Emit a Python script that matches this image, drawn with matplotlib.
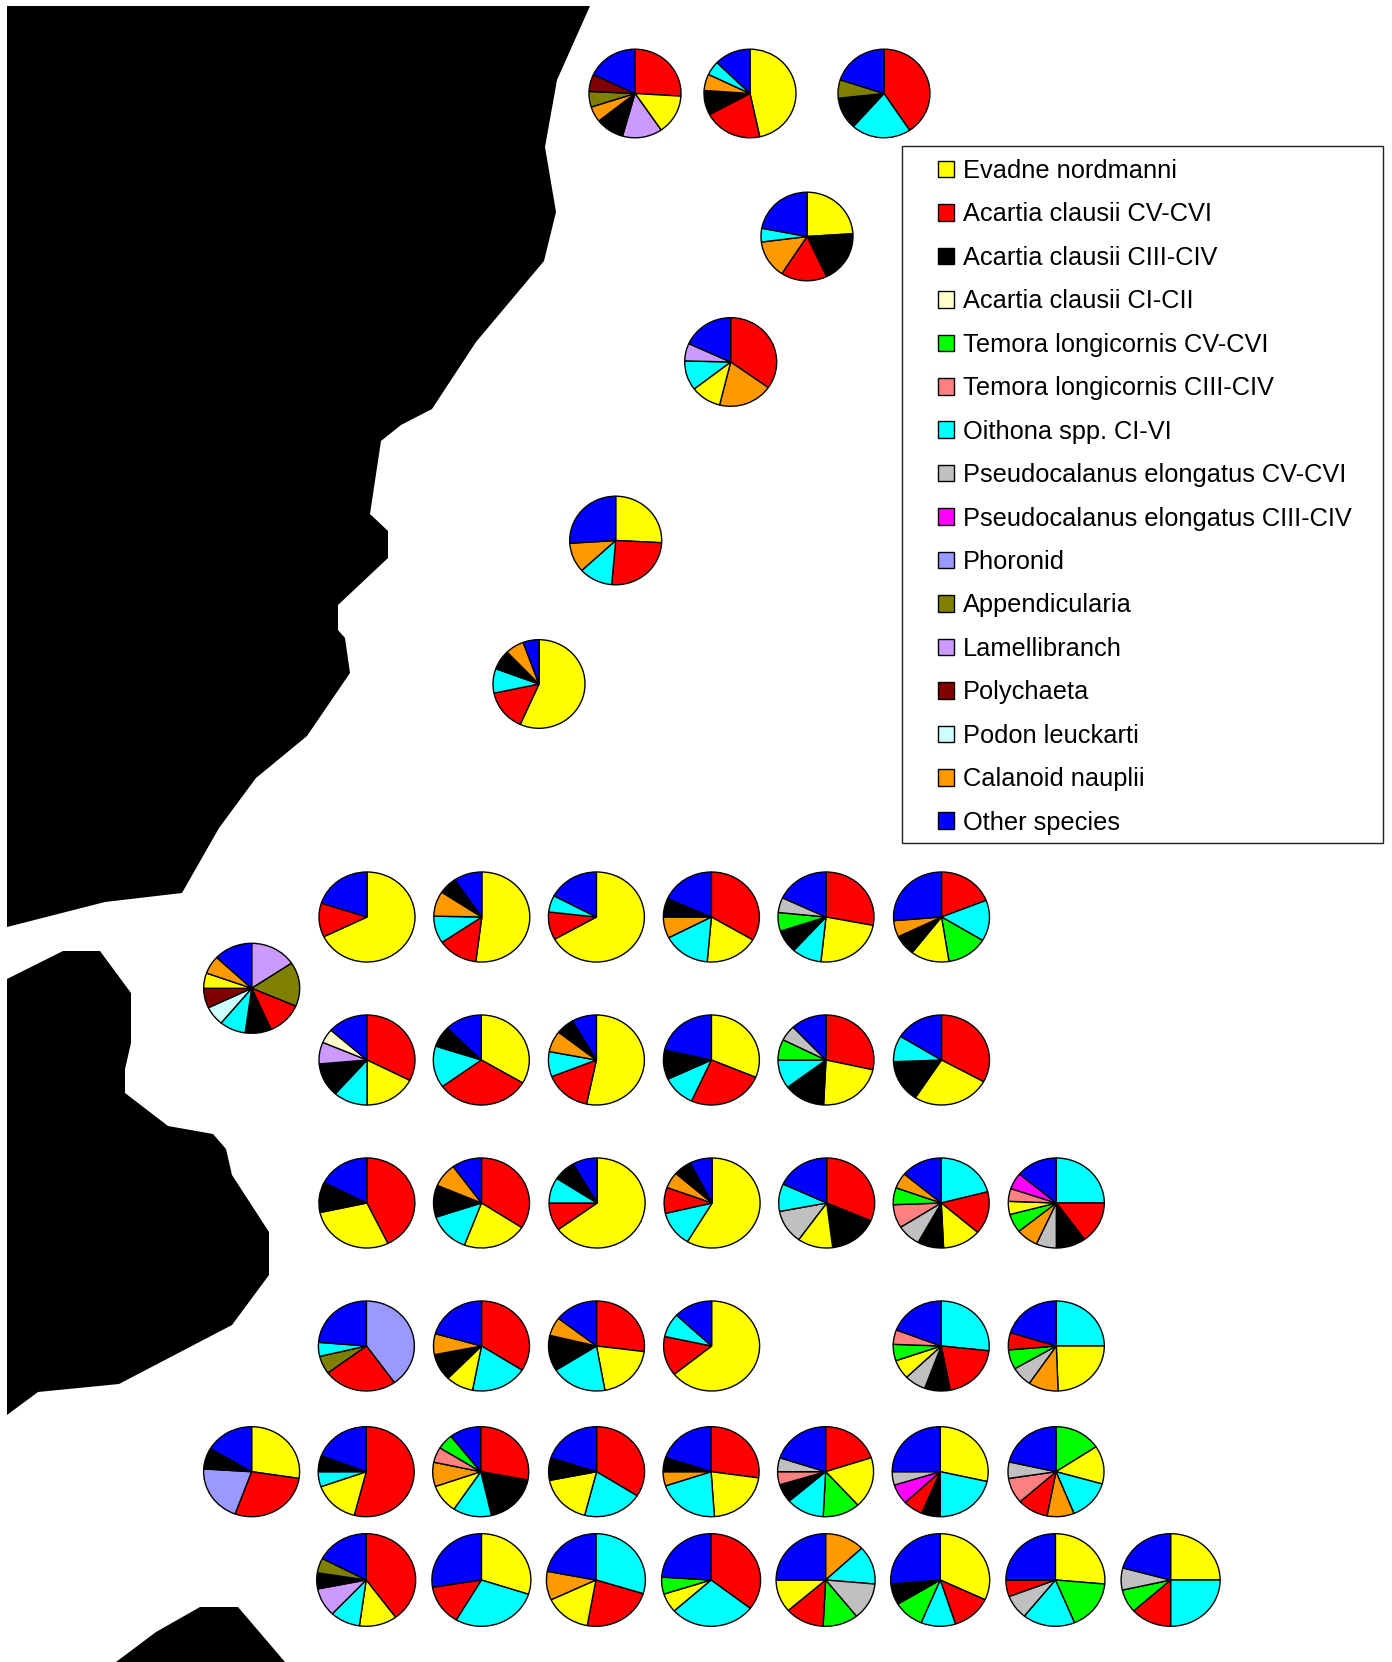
import matplotlib
matplotlib.use("Agg")
import matplotlib.pyplot as plt
from matplotlib.patches import Patch, Rectangle

W, H = 1392, 1662
plt.rcParams['font.family'] = ['Liberation Sans', 'DejaVu Sans']

# ---------- legend ----------
species_codes = ['Y','R','K','Cr','G','S','C','Gy','M','Ph','A','L','P','Po','O','B']
species_names = ['Evadne nordmanni','Acartia clausii CV-CVI','Acartia clausii CIII-CIV','Acartia clausii CI-CII',
                 'Temora longicornis CV-CVI','Temora longicornis CIII-CIV','Oithona spp. CI-VI',
                 'Pseudocalanus elongatus CV-CVI','Pseudocalanus elongatus CIII-CIV','Phoronid','Appendicularia',
                 'Lamellibranch','Polychaeta','Podon leuckarti','Calanoid nauplii','Other species']
species_colors = ['#FFFF00','#FF0000','#000000','#FFFFCC','#00FF00','#FF8080','#00FFFF','#C0C0C0','#FF00FF',
                  '#9999FF','#808000','#CC99FF','#800000','#CCFFFF','#FF9900','#0000FF']

# ---------- station data: clockwise from 12 o'clock, percent ----------
t1_s = ['R','Y','L','K','O','A','P','B'];  t1_v = [26,14.5,14,10,5.7,5.7,6.3,18]
t2_s = ['Y','R','K','O','C','B'];          t2_v = [46.6,20.5,9,6,5.2,12.7]
t3_s = ['R','C','K','A','B'];              t3_v = [40.6,21,11.7,6.7,20]
t4_s = ['Y','K','R','O','C','B'];          t4_v = [24,19,16.2,13.8,5,22]
t5_s = ['R','O','Y','C','L','B'];          t5_v = [34.8,19.1,10.7,10.8,6.4,18.2]
t6_s = ['Y','R','C','O','B'];              t6_v = [25.8,25.6,11.8,10.8,26]
t7_s = ['Y','R','C','K','O','B'];          t7_v = [56.7,15,8.9,7.2,6.6,5.6]

l0_s = ['L','A','R','K','C','Po','P','Y','O','B']; l0_v = [15.6,15.9,11.9,8.8,8.8,6.9,7.1,5.5,6.5,13]

a1_s = ['Y','R','B'];                      a1_v = [67.8,12.2,20]
a2_s = ['Y','R','C','O','K','B'];          a2_v = [52,13.5,9.8,9,6.2,9.5]
a3_s = ['Y','R','C','B'];                  a3_v = [66.8,10,6,17.2]
a4_s = ['R','Y','C','O','K','B'];          a4_v = [33.5,17.9,16,7.6,6.7,18.3]
a5_s = ['R','Y','C','K','G','Gy','B'];     a5_v = [28,23.7,10,8.2,6.7,5.4,18]
a6_s = ['R','C','G','Y','K','O','B'];      a6_v = [19,14.7,13.8,13,7.3,5.9,26.3]

b1_s = ['R','Y','C','K','L','Cr','B'];     b1_v = [32.5,17.5,11.5,12.1,7.8,5.1,13.5]
b2_s = ['Y','R','C','K','B'];              b2_v = [33.5,31.5,15,7.5,12.5]
b3_s = ['Y','R','C','O','K','B'];          b3_v = [53.3,15.7,9,7.6,6.1,8.3]
b4_s = ['Y','R','C','K','B'];              b4_v = [31.3,25.5,11.2,10.6,21.4]
b5_s = ['R','Y','K','C','G','Gy','B'];     b5_v = [28.5,22.3,13.9,10.3,7.4,5.6,12]
b6_s = ['R','Y','K','C','B'];              b6_v = [33,26.2,15.2,9.4,16.2]

c1_s = ['R','Y','K','B'];                  c1_v = [42.8,28.8,10.9,17.5]
c2_s = ['R','Y','C','K','O','B'];          c2_v = [34.2,21.6,14.1,11.5,8.6,10]
c3_s = ['Y','R','C','K','B'];              c3_v = [65,10,9.2,7.5,8.3]
c4_s = ['Y','C','R','O','K','B'];          c4_v = [58.6,12.7,9.3,5.8,6.1,7.5]
c5_s = ['R','K','Y','Gy','C','B'];         c5_v = [31.5,16.5,11.9,12.1,9.9,18.1]
c6_s = ['C','R','Y','K','Gy','S','G','O','B']; c6_v = [21,15.3,12.9,8.8,8,8.4,6.1,5.6,13.9]
c7_s = ['C','R','K','Gy','O','G','Y','S','M','B']; c7_v = [25,15,10,6.8,7.4,6.7,4.7,4.6,5.9,13.9]

d1_s = ['Ph','R','A','C','B'];             d1_v = [40.1,24.7,6.5,5,23.7]
d2_s = ['R','C','Y','K','O','B'];          d2_v = [34,19,9.3,9.6,7.5,20.6]
d3_s = ['R','Y','C','K','O','B'];          d3_v = [27,20.2,18.8,12.8,6.7,14.5]
d4_s = ['Y','R','C','B'];                  d4_v = [64.2,14.2,8.6,13]
d5_s = ['C','R','K','Gy','Y','G','S','B']; d5_v = [26.7,20.3,8.6,7.2,6.9,5.9,5.2,19.2]
d6_s = ['C','Y','O','Gy','G','R','B'];     d6_v = [25,24.4,10.1,7.1,7,6.2,20.2]

e0_s = ['Y','R','Ph','K','B'];             e0_v = [27.4,28.2,20.4,7.6,16.4]
e1_s = ['R','Y','C','K','B'];              e1_v = [54,15.6,5.4,5.8,19.2]
e2_s = ['R','K','C','Y','O','S','G','B'];  e2_v = [28,18.4,13,10.3,8.7,5.5,5.5,10.6]
e3_s = ['R','C','Y','K','B'];              e3_v = [34,20,17.9,8.1,20]
e4_s = ['R','Y','C','O','K','B'];          e4_v = [27.2,21.7,21,5.1,5.2,19.8]
e5_s = ['R','Y','G','C','K','S','Gy','B']; e5_v = [20,18.3,12.5,12.9,6.6,4.7,5,20]
e6_s = ['Y','C','K','R','M','Gy','B'];     e6_v = [28.5,21.5,6.3,6.7,7.2,4.8,25]
e7_s = ['G','Y','C','O','R','S','Gy','B']; e7_v = [15.7,13.7,14.5,9.1,10.4,9.2,5.9,21.5]

f1_s = ['R','Y','C','L','K','A','B'];      f1_v = [39.9,12.3,9.8,9.9,5.6,5.2,17.3]
f2_s = ['Y','C','R','B'];                  f2_v = [30,28.5,14,27.5]
f3_s = ['C','R','Y','O','B'];              f3_v = [29.8,23,15.2,10,22]
f4_s = ['R','C','Y','G','B'];              f4_v = [35.5,27.9,6.7,5.9,24]
f5_s = ['O','C','Gy','G','R','Y','B'];     f5_v = [13,13.4,12.9,11.5,12.8,11.4,25]
f6_s = ['Y','R','C','G','K','B'];          f6_v = [32,13,11.3,10,7.3,26.4]
f7_s = ['Y','G','C','Gy','R','B'];         f7_v = [26.4,17.3,17.1,8.4,5.8,25]
f8_s = ['Y','C','R','G','Gy','B'];         f8_v = [25,25,13.4,8.1,7.7,20.8]

# ---------- layout (pixels in the output image) ----------
coast_north = [(7,6),(590,6),(557,80),(545,147),(556,212),(544,261),(476,342),(432,409),(401,425),(381,441),
               (370,514),(388,531),(388,558),(338,605),(338,630),(345,638),(350,673),(307,736),(256,778),
               (219,828),(182,893),(105,902),(7,927)]
coast_middle = [(7,979),(63,951),(100,951),(131,993),(131,1043),(125,1069),(125,1093),(168,1126),(213,1134),
                (226,1149),(232,1175),(269,1232),(269,1275),(232,1325),(119,1384),(38,1392),(7,1415)]
coast_south = [(116,1662),(156,1632),(200,1607),(238,1607),(285,1662)]

top_r = (46, 44.3)
low_r = (48, 45)
end_r = (49.5, 46.3)
layout = [
    (t1_s,t1_v,635,93.5,top_r),(t2_s,t2_v,750,93.5,top_r),(t3_s,t3_v,884,93.5,top_r),(t4_s,t4_v,807,236.5,top_r),
    (t5_s,t5_v,730.7,362,top_r),(t6_s,t6_v,615.7,540.5,top_r),(t7_s,t7_v,539,684,top_r),
    (l0_s,l0_v,251.7,988.3,low_r),
    (a1_s,a1_v,367,917,low_r),(a2_s,a2_v,481.8,917,low_r),(a3_s,a3_v,596.4,917,low_r),
    (a4_s,a4_v,711.4,917,low_r),(a5_s,a5_v,826,917,low_r),(a6_s,a6_v,941.5,917,low_r),
    (b1_s,b1_v,367,1060,low_r),(b2_s,b2_v,481.3,1060,low_r),(b3_s,b3_v,596.4,1060,low_r),
    (b4_s,b4_v,711.4,1060,low_r),(b5_s,b5_v,826,1060,low_r),(b6_s,b6_v,941.5,1060,low_r),
    (c1_s,c1_v,366.9,1203,low_r),(c2_s,c2_v,481.5,1203,low_r),(c3_s,c3_v,597.1,1203,low_r),
    (c4_s,c4_v,712.1,1203,low_r),(c5_s,c5_v,826.7,1203,low_r),(c6_s,c6_v,941.2,1203,low_r),
    (c7_s,c7_v,1056.3,1203,low_r),
    (d1_s,d1_v,366.4,1346,low_r),(d2_s,d2_v,481.5,1346,low_r),(d3_s,d3_v,596.5,1346,low_r),
    (d4_s,d4_v,711.6,1346,low_r),(d5_s,d5_v,941.2,1346,low_r),(d6_s,d6_v,1056.3,1346,low_r),
    (e0_s,e0_v,251.6,1471.7,low_r),(e1_s,e1_v,366.2,1471.7,low_r),(e2_s,e2_v,480.7,1471.7,low_r),
    (e3_s,e3_v,596.6,1471.7,low_r),(e4_s,e4_v,711.1,1471.7,low_r),(e5_s,e5_v,825.6,1471.7,low_r),
    (e6_s,e6_v,940.2,1471.7,low_r),(e7_s,e7_v,1056,1471.7,low_r),
    (f1_s,f1_v,366.2,1580,end_r),(f2_s,f2_v,481.4,1580,end_r),(f3_s,f3_v,595.9,1580,end_r),
    (f4_s,f4_v,711.1,1580,end_r),(f5_s,f5_v,825.6,1580,end_r),(f6_s,f6_v,940.2,1580,end_r),
    (f7_s,f7_v,1055.4,1580,end_r),(f8_s,f8_v,1170.6,1580,end_r),
]

code_to_color = dict(zip(species_codes, species_colors))

fig = plt.figure(figsize=(W/100, H/100), dpi=100, facecolor='white')
bg = fig.add_axes([0, 0, 1, 1])
bg.set_xlim(0, W)
bg.set_ylim(H, 0)
bg.axis('off')

for outline in (coast_north, coast_middle, coast_south):
    xs, ys = zip(*outline)
    bg.fill(xs, ys, color='black', lw=0)

# legend frame and legend
bg.add_patch(Rectangle((902, 145.5), 481, 697.5, fill=False, edgecolor='#222222', lw=1.0))
handles = [Patch(facecolor=c, edgecolor='black', lw=1.0) for c in species_colors]
bg.legend(handles, species_names, loc='upper left', bbox_to_anchor=(938.3, 159), bbox_transform=bg.transData,
          frameon=False, fontsize=18.3, borderaxespad=0, borderpad=0,
          handlelength=0.63, handleheight=0.63, handletextpad=0.33, labelspacing=0.765)

# one small axes per station
for sp, vals, cx, cy, (rx, ry) in layout:
    ax = fig.add_axes([(cx-rx)/W, 1-(cy+ry)/H, 2*rx/W, 2*ry/H])
    ax.pie(vals, colors=[code_to_color[s] for s in sp], startangle=90, counterclock=False, radius=1,
           wedgeprops=dict(edgecolor='black', linewidth=1.0, clip_on=False))
    ax.set_aspect('auto')
    ax.set_xlim(-1, 1)
    ax.set_ylim(-1, 1)

fig.savefig('out.png', dpi=100)
